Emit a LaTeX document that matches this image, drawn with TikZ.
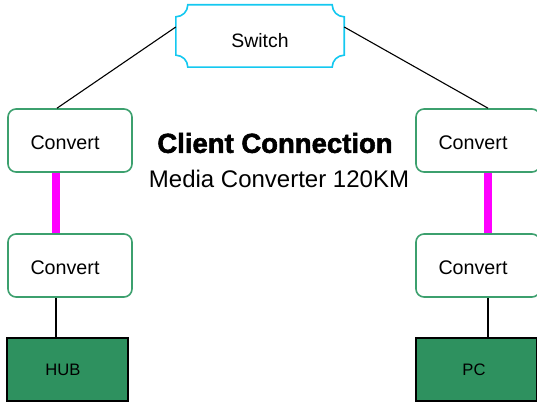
\documentclass[tikz,border=0pt]{standalone}
\usepackage{fontspec}
\setmainfont{Liberation Sans}
\newfontfamily\heavyfont[FakeBold=2]{Liberation Sans Bold}
\usetikzlibrary{calc}
\definecolor{boxgreen}{RGB}{60,160,110}
\definecolor{fillgreen}{RGB}{46,145,95}
\definecolor{swcyan}{RGB}{20,200,240}
\definecolor{fiber}{RGB}{255,0,255}
\begin{document}
\begin{tikzpicture}[x=1pt,y=1pt,
  conv/.style={draw=boxgreen,line width=1.6pt,rounded corners=8pt,fill=white,
    minimum width=124pt,minimum height=63pt,inner sep=0pt,font=\fontsize{19.7}{22}\selectfont},
  dev/.style={draw=black,line width=1.6pt,fill=fillgreen,
    minimum width=121pt,minimum height=63pt,inner sep=0pt,font=\fontsize{16.6}{19}\selectfont},
  fiberline/.style={draw=fiber,line width=8pt},
  wire/.style={draw=black,line width=1.1pt}]
\useasboundingbox (0,0) rectangle (537,403);
% switch
\node[minimum width=168pt,minimum height=62pt,inner sep=0pt,font=\fontsize{19.4}{22}\selectfont] (sw) at (260,367) {\raisebox{-12pt}[0pt][0pt]{Switch}};
\draw[swcyan,line width=1.6pt]
  ($(sw.north west)+(12,0)$) -- ($(sw.north east)+(-12,0)$)
  arc[start angle=180,end angle=270,radius=12pt]
  -- ($(sw.south east)+(0,12)$)
  arc[start angle=90,end angle=180,radius=12pt]
  -- ($(sw.south west)+(12,0)$)
  arc[start angle=0,end angle=90,radius=12pt]
  -- ($(sw.north west)+(0,-12)$)
  arc[start angle=270,end angle=360,radius=12pt] -- cycle;
% converters
\node[conv] (c1) at (70,262.5) {\hspace*{-10pt}\raisebox{-9pt}[0pt][0pt]{Convert}};
\node[conv] (c2) at (70,137.5) {\hspace*{-10pt}\raisebox{-9pt}[0pt][0pt]{Convert}};
\node[conv] (c3) at (478,262.5) {\hspace*{-10pt}\raisebox{-9pt}[0pt][0pt]{Convert}};
\node[conv] (c4) at (478,137.5) {\hspace*{-10pt}\raisebox{-9pt}[0pt][0pt]{Convert}};
% devices
\node[dev] (hub) at (67.5,33.5) {\hspace*{-9pt}HUB};
\node[dev] (pc) at (476.5,33.5) {\hspace*{-5pt}PC};
% titles
\node[font=\heavyfont\fontsize{27.5}{30}\selectfont] (title) at (275,260) {Client Connection};
\node[font=\fontsize{24}{28}\selectfont,anchor=base] (sub) at (279,215) {Media Converter 120KM};
% connectors
\draw[wire] ([yshift=9pt]sw.west) -- ([xshift=-13pt]c1.north);
\draw[wire] ([yshift=9pt]sw.east) -- ([xshift=10pt]c3.north);
\draw[fiberline] ([xshift=-14pt]c1.south) -- ([xshift=-14pt]c2.north);
\draw[fiberline] ([xshift=10pt]c3.south) -- ([xshift=10pt]c4.north);
\draw[wire] ([xshift=-14pt]c2.south) -- (hub.north -| {$(c2.south)+(-14,0)$});
\draw[wire] ([xshift=10pt]c4.south) -- (pc.north -| {$(c4.south)+(10,0)$});
\end{tikzpicture}
\end{document}
